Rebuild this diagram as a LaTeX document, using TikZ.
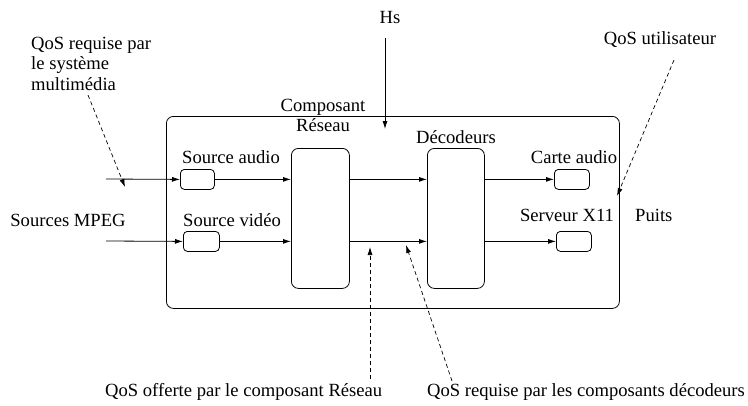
\documentclass[tikz,border=0pt]{standalone}
\usepackage{fontspec}
\setmainfont{Liberation Serif}
\usetikzlibrary{arrows.meta}
\begin{document}
\begin{tikzpicture}[x=1pt,y=-1pt,
  box/.style={draw, rounded corners=4pt, line width=0.8pt, inner sep=0pt, anchor=north west},
  lbl/.style={font=\fontsize{18.6}{20.5}\selectfont, inner sep=0pt, anchor=base},
  flow/.style={-{Latex[length=8pt,width=5pt]}, line width=0.8pt},
  qos/.style={-{Latex[length=8pt,width=5pt]}, line width=0.7pt, dash pattern=on 4pt off 3pt}]
\useasboundingbox (0,0) rectangle (748,405);
% container
\node[box, rounded corners=7pt, minimum width=453pt, minimum height=192pt] (comp) at (166,116) {};
% boxes
\node[box, minimum width=34pt, minimum height=20pt] (asrc) at (180,169) {};
\node[box, minimum width=36pt, minimum height=20pt] (vsrc) at (183,231) {};
\node[box, rounded corners=7pt, minimum width=58pt, minimum height=140pt] (net) at (291,148) {};
\node[box, rounded corners=7pt, minimum width=57pt, minimum height=140pt] (dec) at (427,148) {};
\node[box, minimum width=35pt, minimum height=20pt] (carte) at (554,169) {};
\node[box, minimum width=35pt, minimum height=20pt] (x11) at (556,231) {};
% labels
\node[lbl, anchor=base west, align=left] (qsys) at (31,90) {QoS requise par\\le système\\multimédia};
\node[lbl] (hs) at (390,23) {Hs};
\node[lbl] (compA) at (323,111) {Composant};
\node[lbl] (compB) at (323,131) {Réseau};
\node[lbl] (decl) at (456,143) {Décodeurs};
\node[lbl, anchor=base west] (asrcl) at (182,163) {Source audio};
\node[lbl] (quser) at (660,44) {QoS utilisateur};
\node[lbl] (cartel) at (574,163) {Carte audio};
\node[lbl] (mpeg) at (68,226) {Sources MPEG};
\node[lbl, anchor=base west] (vsrcl) at (183,226) {Source vidéo};
\node[lbl] (x11l) at (567,221) {Serveur X11};
\node[lbl, anchor=base west] (puits) at (635,221) {Puits};
\node[lbl, anchor=base west] (qnet) at (105,396) {QoS offerte par le composant Réseau};
\node[lbl, anchor=base west] (qdec) at (427,396) {QoS requise par les composants décodeurs};
% free ends
\coordinate (ain) at (106,179);
\coordinate (vin) at (106,241);
\coordinate (hstop) at (385,38);
\coordinate (hsend) at (385,129);
\coordinate (qsysA) at (88,95);
\coordinate (qsysB) at (125,187);
\coordinate (quserA) at (674,60);
\coordinate (quserB) at (617,196);
\coordinate (qnetA) at (370,379);
\coordinate (qnetB) at (370,247);
\coordinate (qdecA) at (452,381);
\coordinate (qdecB) at (406,245);
% flows
\draw[flow] (ain) -- (asrc.west);
\draw[flow] (vin) -- (vsrc.west);
\draw[flow] (asrc.east) -- (asrc.east -| net.west);
\draw[flow] (vsrc.east) -- (vsrc.east -| net.west);
\draw[flow] (asrc.east -| net.east) -- (asrc.east -| dec.west);
\draw[flow] (vsrc.east -| net.east) -- (vsrc.east -| dec.west);
\draw[flow] (carte.west -| dec.east) -- (carte.west);
\draw[flow] (x11.west -| dec.east) -- (x11.west);
\draw[flow] (hstop) -- (hsend);
% qos arrows
\draw[qos] (qsysA) -- (qsysB);
\draw[qos] (quserA) -- (quserB);
\draw[qos] (qnetA) -- (qnetB);
\draw[qos] (qdecA) -- (qdecB);
\end{tikzpicture}
\end{document}
